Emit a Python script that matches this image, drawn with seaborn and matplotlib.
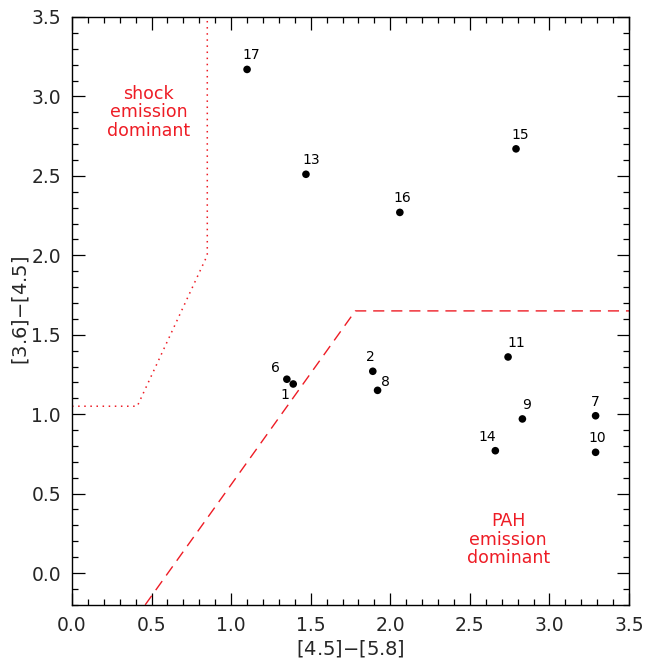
import matplotlib
matplotlib.use("Agg")
import matplotlib.pyplot as plt
from matplotlib.ticker import MultipleLocator, FormatStrFormatter
import pandas as pd
import seaborn as sns

# Source colours: [4.5]-[5.8] vs [3.6]-[4.5]
ids = ["1", "2", "6", "7", "8", "9", "10", "11", "13", "14", "15", "16", "17"]
color_45_58 = [1.39, 1.89, 1.35, 3.29, 1.92, 2.83, 3.29, 2.74, 1.47, 2.66, 2.79, 2.06, 1.10]
color_36_45 = [1.19, 1.27, 1.22, 0.99, 1.15, 0.97, 0.76, 1.36, 2.51, 0.77, 2.67, 2.27, 3.17]

# Region boundaries
pah_x = [0.46, 1.78, 3.5]
pah_y = [-0.2, 1.65, 1.65]
shock_x = [0.0, 0.41, 0.85, 0.85]
shock_y = [1.05, 1.05, 2.0, 3.5]

# Label offsets (points) for each source number
label_offsets = {
    "1": (-6, -13), "2": (-2, 5), "6": (-8, 3), "7": (0, 5), "8": (6, 1),
    "9": (3, 5), "10": (1, 5), "11": (6, 5), "13": (4, 5), "14": (-6, 5),
    "15": (3, 5), "16": (2, 5), "17": (3, 5),
}

df = pd.DataFrame({"id": ids, "x": color_45_58, "y": color_36_45})

sns.set_theme(style="ticks")
plt.rcParams["font.family"] = ["DejaVu Sans"]

fig = plt.figure(figsize=(6.47, 6.61), dpi=100)
ax = fig.add_axes([0.1113, 0.085, 0.8609, 0.8893])

ax.plot(pah_x, pah_y, color="#ee1c25", lw=1.0, linestyle=(0, (8, 5)))
ax.plot(shock_x, shock_y, color="#ee1c25", lw=1.1, linestyle=(0, (1, 3)))

sns.scatterplot(data=df, x="x", y="y", ax=ax, color="black", s=30,
                edgecolor="none", legend=False, zorder=3)

for i, xv, yv in zip(ids, color_45_58, color_36_45):
    dx, dy = label_offsets[i]
    ax.annotate(i, (xv, yv), xytext=(dx, dy), textcoords="offset points",
                ha="center", va="bottom", fontsize=10, color="black")

ax.text(0.48, 2.90, "shock\nemission\ndominant", color="#ee1c25",
        ha="center", va="center", fontsize=12.5, linespacing=1.05)
ax.text(2.74, 0.21, "PAH\nemission\ndominant", color="#ee1c25",
        ha="center", va="center", fontsize=12.5, linespacing=1.05)

ax.set_xlim(0, 3.5)
ax.set_ylim(-0.2, 3.5)
ax.xaxis.set_major_locator(MultipleLocator(0.5))
ax.xaxis.set_minor_locator(MultipleLocator(0.1))
ax.yaxis.set_major_locator(MultipleLocator(0.5))
ax.yaxis.set_minor_locator(MultipleLocator(0.1))
ax.xaxis.set_major_formatter(FormatStrFormatter("%.1f"))
ax.yaxis.set_major_formatter(FormatStrFormatter("%.1f"))
ax.tick_params(which="both", direction="in", top=True, right=True, color="black", width=0.9)
ax.tick_params(which="major", length=9, labelsize=13.5, pad=8)
ax.tick_params(which="minor", length=4.5)
for sp in ax.spines.values():
    sp.set_color("black")
    sp.set_linewidth(1.0)

ax.set_xlabel("[4.5]$-$[5.8]", fontsize=14, labelpad=2)
ax.set_ylabel("[3.6]$-$[4.5]", fontsize=14, labelpad=0)

fig.savefig("out.png", dpi=100)
